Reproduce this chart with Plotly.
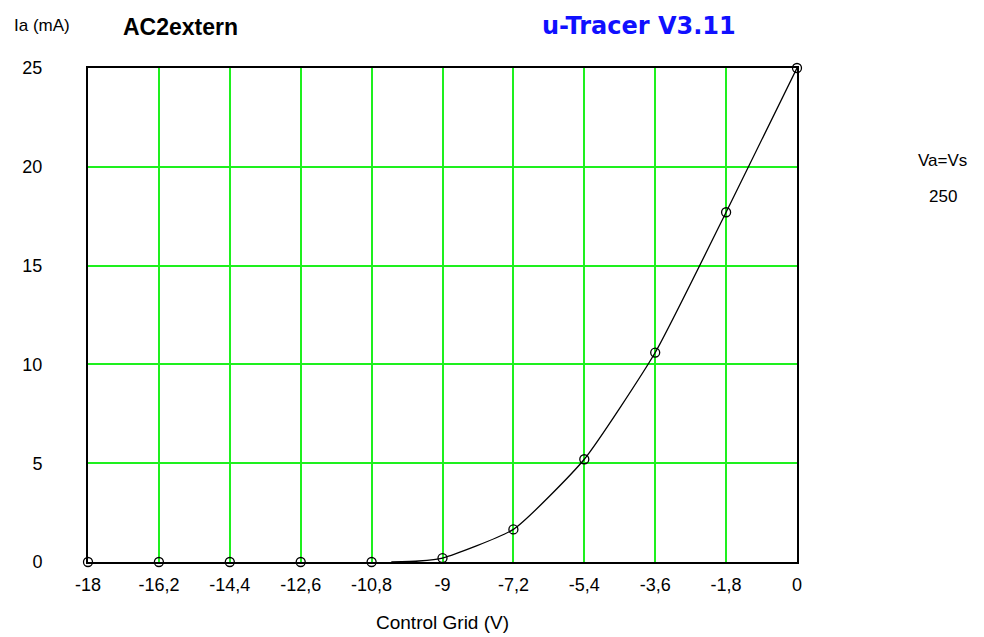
import plotly.graph_objects as go

# Data
tick_x = [-18, -16.2, -14.4, -12.6, -10.8, -9, -7.2, -5.4, -3.6, -1.8, 0]
tick_x_labels = ["-18", "-16,2", "-14,4", "-12,6", "-10,8", "-9", "-7,2", "-5,4", "-3,6", "-1,8", "0"]
marker_ia = [0, 0, 0, 0, 0, 0.2, 1.65, 5.2, 10.6, 17.7, 25]
curve_vg = [-10.3, -9.6, -9, -7.2, -5.4, -3.6, -1.8, 0]
curve_ia = [0, 0.05, 0.2, 1.65, 5.2, 10.6, 17.7, 25]
tick_y = [0, 5, 10, 15, 20, 25]

FONT = "Liberation Sans, Arial, sans-serif"

fig = go.Figure()
fig.add_trace(go.Scatter(x=curve_vg, y=curve_ia, mode="lines",
                         line=dict(color="black", width=1.3, shape="spline", smoothing=0.5),
                         hoverinfo="skip", showlegend=False))
fig.add_trace(go.Scatter(x=tick_x, y=marker_ia, mode="markers",
                         marker=dict(symbol="circle-open", size=9, color="black",
                                     line=dict(width=1.3, color="black")),
                         showlegend=False, cliponaxis=False))

fig.update_layout(
    width=984, height=637,
    margin=dict(l=88, r=187, t=68, b=75),
    paper_bgcolor="white", plot_bgcolor="white",
    font=dict(family=FONT, size=18, color="black"),
    xaxis=dict(range=[-18, 0], tickvals=tick_x, ticktext=tick_x_labels,
               showgrid=True, gridcolor="#1EF01E", gridwidth=1.5,
               zeroline=False, showline=True, linecolor="black", linewidth=2, mirror=True,
               ticks="", ticklabelstandoff=5, fixedrange=True),
    yaxis=dict(range=[0, 25], tickvals=tick_y,
               showgrid=True, gridcolor="#1EF01E", gridwidth=1.5,
               zeroline=False, showline=True, linecolor="black", linewidth=2, mirror=True,
               ticks="", ticklabelstandoff=40, fixedrange=True),
)

# Position annotations in pixel-like paper coords
W, H = 984, 637
pw, ph = W - 88 - 187, H - 68 - 75
def px(xp):
    return (xp - 88) / pw
def py(yp):
    return (H - 75 - yp) / ph

fig.add_annotation(text="Ia (mA)", x=px(12), y=py(26), xref="paper", yref="paper", showarrow=False,
                   xanchor="left", yanchor="middle", font=dict(size=17))
fig.add_annotation(text="<b>AC2extern</b>", x=px(121), y=py(27), xref="paper", yref="paper", showarrow=False,
                   xanchor="left", yanchor="middle", font=dict(size=23))
fig.add_annotation(text="<b>u-Tracer V3.11</b>", x=px(540), y=py(26), xref="paper", yref="paper", showarrow=False,
                   xanchor="left", yanchor="middle",
                   font=dict(size=24, color="#1010FF", family="DejaVu Sans, sans-serif"))
fig.add_annotation(text="Va=Vs", x=px(943), y=py(160), xref="paper", yref="paper", showarrow=False,
                   xanchor="center", yanchor="middle", font=dict(size=17))
fig.add_annotation(text="250", x=px(943), y=py(196), xref="paper", yref="paper", showarrow=False,
                   xanchor="center", yanchor="middle", font=dict(size=17))
fig.add_annotation(text="Control Grid (V)", x=px(442), y=py(622), xref="paper", yref="paper", showarrow=False,
                   xanchor="center", yanchor="middle", font=dict(size=19))

fig.write_html("out.html")
